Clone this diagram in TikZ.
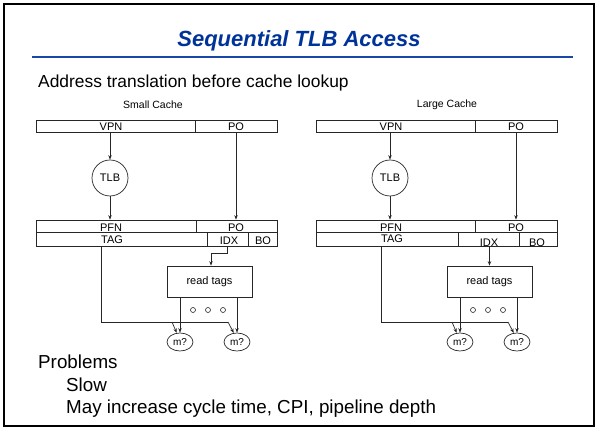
\documentclass[tikz,border=0pt]{standalone}
\usepackage{fontspec}
\setmainfont{Liberation Sans}
\usetikzlibrary{shapes.geometric,arrows.meta,calc}
\definecolor{titleblue}{RGB}{0,51,153}
\definecolor{ruleblue}{RGB}{25,70,170}
\tikzset{
  ln/.style={line width=0.7pt, draw=black!85},
  arr/.style={ln, -{Stealth[length=4.5pt,width=3.5pt]}},
  field/.style={draw=black!85, line width=0.7pt, inner sep=0pt, minimum height=12pt},
  lbl/.style={font=\fontsize{11}{13}\selectfont, anchor=base, inner sep=0pt},
  tlbc/.style={circle, draw=black!85, line width=0.7pt, minimum size=36pt, inner sep=0pt, font=\fontsize{11}{13}\selectfont},
  rtbox/.style={draw=black!85, line width=0.7pt, minimum width=85pt, minimum height=31pt, inner sep=0pt, font=\fontsize{11}{13}\selectfont},
  mq/.style={ellipse, draw=black!85, line width=0.7pt, minimum width=26pt, minimum height=18pt, inner sep=0pt, font=\fontsize{10}{12}\selectfont},
  dotc/.style={circle, draw=black!85, line width=0.6pt, minimum size=5pt, inner sep=0pt},
  body/.style={font=\fontsize{17.4}{20}\selectfont, anchor=base west, inner sep=0pt},
  bodybig/.style={font=\fontsize{18.8}{22}\selectfont, anchor=base west, inner sep=0pt},
  captext/.style={font=\fontsize{10.5}{12}\selectfont, inner sep=0pt}
}
\begin{document}
\begin{tikzpicture}[x=1pt,y=-1pt]
\useasboundingbox (0,0) rectangle (598,430);
\draw[line width=2.8pt] (4,4) rectangle (594,426);
% title
\node[font=\fontsize{22}{26}\selectfont\bfseries\itshape, text=titleblue, inner sep=0pt] (title) at (299,41) {Sequential TLB Access};
\coordinate (ruleL) at (32,57.5);
\coordinate (ruleR) at (573,57.5);
\draw[ruleblue, line width=2pt] (ruleL) -- (ruleR);
\node[body] (addr) at (38,88) {Address translation before cache lookup};
\node[captext] (smallc) at (153,105) {Small Cache};
\node[captext] (largec) at (447,105) {Large Cache};

% ================= left =================
\node[field, minimum width=159pt] (lvpn) at (115.5,126) {};
\node[field, minimum width=82pt] (lpo) at (236,126) {};
\node[lbl] (lvpnt) at (111,131) {VPN};
\node[lbl] (lpot) at (236,131) {PO};
\node[tlbc] (ltlb) at (110,178) {TLB};
\node[field, minimum width=160pt] (lpfn) at (116,226) {};
\node[field, minimum width=81pt] (lpo2) at (236.5,226) {};
\node[lbl] (lpfnt) at (111,231.5) {PFN};
\node[lbl] (lpo2t) at (236,231.5) {PO};
\node[field, minimum width=171pt, minimum height=14pt] (ltag) at (121.5,239) {};
\node[field, minimum width=41pt, minimum height=14pt] (lidx) at (227.5,239) {};
\node[field, minimum width=29pt, minimum height=14pt] (lbo) at (262.5,239) {};
\node[lbl] (ltagt) at (112,243.5) {TAG};
\node[lbl] (lidxt) at (229,245) {IDX};
\node[lbl] (lbot) at (263,245) {BO};
\node[rtbox] (lrt) at (209.5,281.5) {read tags};
\node[mq] (lm1) at (180,342) {m?};
\node[mq] (lm2) at (237,342) {m?};
\node[dotc] (ld1) at (193,310) {};
\node[dotc] (ld2) at (208,310) {};
\node[dotc] (ld3) at (223,310) {};
\coordinate (lbend) at (211,253);
\coordinate (lc) at (101,322);
\coordinate (lj1) at (172,322);
\coordinate (lj2) at (228,322);
\draw[arr] (lvpn.south -| ltlb) -- (ltlb);
\draw[arr] (ltlb) -- (ltlb |- lpfn.north);
\draw[arr] (lpo.south) -- (lpo.south |- lpo2.north);
\draw[arr] (lidx.south) |- (lbend) -- (lbend |- lrt.north);
\draw[arr] (lrt.south -| lm1) -- (lm1);
\draw[arr] (lrt.south -| lm2) -- (lm2);
\draw[ln] (ltag.south -| lc) -- (lc) -- (lj2);
\draw[arr] (lj1) -- (lm1.110);
\draw[arr] (lj2) -- (lm2.110);

% ================= right =================
\node[field, minimum width=159pt] (rvpn) at (395.5,126) {};
\node[field, minimum width=82pt] (rpo) at (516,126) {};
\node[lbl] (rvpnt) at (391,131) {VPN};
\node[lbl] (rpot) at (516,131) {PO};
\node[tlbc] (rtlb) at (390,178) {TLB};
\node[field, minimum width=159pt] (rpfn) at (395.5,226) {};
\node[field, minimum width=82pt] (rpo2) at (516,226) {};
\node[lbl] (rpfnt) at (391,231.5) {PFN};
\node[lbl] (rpo2t) at (516,231.5) {PO};
\node[field, minimum width=142pt, minimum height=14pt] (rtag) at (387,239) {};
\node[field, minimum width=61pt, minimum height=14pt] (ridx) at (488.5,239) {};
\node[field, minimum width=38pt, minimum height=14pt] (rbo) at (538,239) {};
\node[lbl] (rtagt) at (392,242.5) {TAG};
\node[lbl] (ridxt) at (489,246.5) {IDX};
\node[lbl] (rbot) at (537,246.5) {BO};
\node[rtbox] (rrt) at (489.5,281.5) {read tags};
\node[mq] (rm1) at (460,342) {m?};
\node[mq] (rm2) at (517,342) {m?};
\node[dotc] (rd1) at (473,310) {};
\node[dotc] (rd2) at (488,310) {};
\node[dotc] (rd3) at (503,310) {};
\coordinate (rc) at (381,322);
\coordinate (rj1) at (452,322);
\coordinate (rj2) at (508,322);
\draw[arr] (rvpn.south -| rtlb) -- (rtlb);
\draw[arr] (rtlb) -- (rtlb |- rpfn.north);
\draw[arr] (rpo.south) -- (rpo.south |- rpo2.north);
\draw[arr] ([xshift=1pt]ridx.south) -- ([xshift=1pt]ridx.south |- rrt.north);
\draw[arr] (rrt.south -| rm1) -- (rm1);
\draw[arr] (rrt.south -| rm2) -- (rm2);
\draw[ln] (rtag.south -| rc) -- (rc) -- (rj2);
\draw[arr] (rj1) -- (rm1.110);
\draw[arr] (rj2) -- (rm2.110);

% bottom text
\node[bodybig] (prob) at (38,369) {Problems};
\node[bodybig] (slow) at (66,392) {Slow};
\node[bodybig] (may) at (66,414) {May increase cycle time, CPI, pipeline depth};
\end{tikzpicture}
\end{document}
